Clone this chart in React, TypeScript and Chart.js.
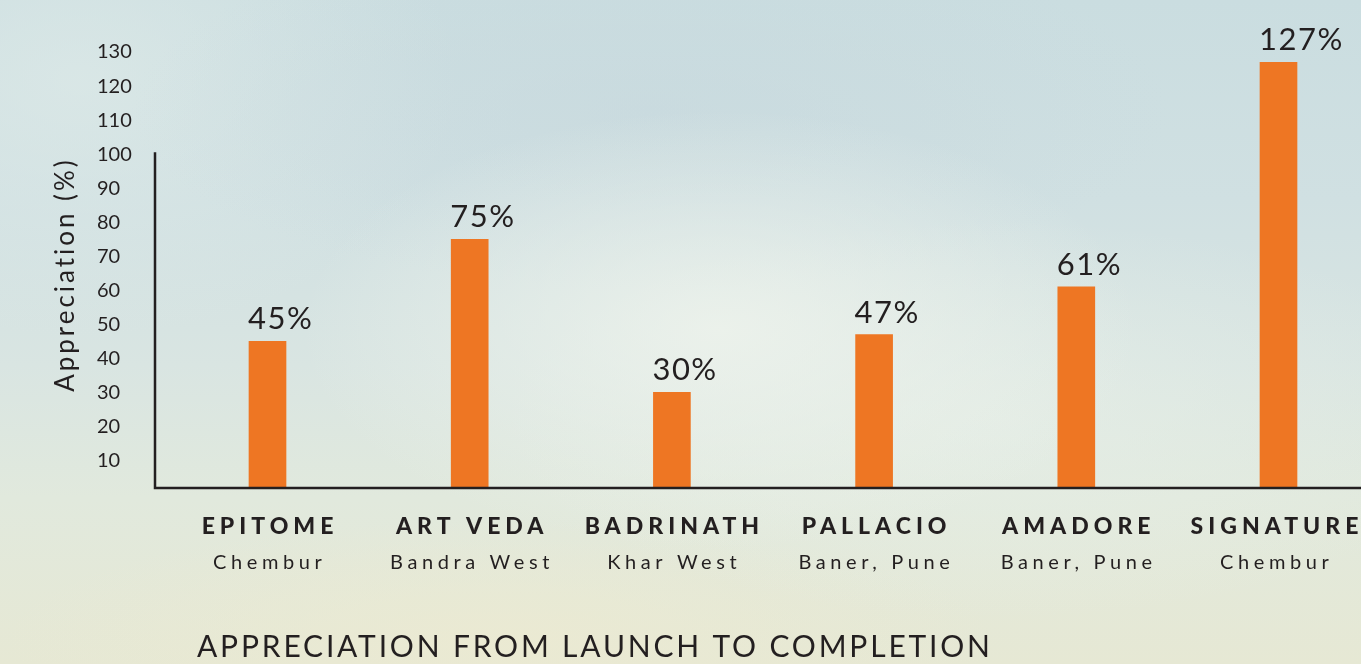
import React, { useEffect, useRef } from "react";
import { Chart, registerables } from "chart.js";

Chart.register(...registerables);

const projects = ["EPITOME", "ART VEDA", "BADRINATH", "PALLACIO", "AMADORE", "SIGNATURE"];
const locations = ["Chembur", "Bandra West", "Khar West", "Baner, Pune", "Baner, Pune", "Chembur"];
const appreciation = [45, 75, 30, 47, 61, 127];
const yTicks = [10, 20, 30, 40, 50, 60, 70, 80, 90, 100, 110, 120, 130];
const yAxisTitle = "Appreciation (%)";
const chartTitle = "APPRECIATION FROM LAUNCH TO COMPLETION";

const INK = "#231f20";
const BAR = "#ee7623";

function fitText(ctx: any, text: string, cx: number, cy: number, target: number, align: "center" | "left") {
  ctx.letterSpacing = "0px";
  const w = ctx.measureText(text).width;
  const ls = (target - w) / Math.max(1, text.length - 1);
  ctx.letterSpacing = ls + "px";
  ctx.textAlign = align;
  ctx.fillText(text, align === "center" ? cx + ls / 2 : cx, cy);
}

const overlayPlugin = {
  id: "overlay",
  afterDatasetsDraw(chart: any) {
    const { ctx, chartArea, scales } = chart;
    const x = scales.x;
    const y = scales.y;
    ctx.save();
    // axis lines
    ctx.strokeStyle = INK;
    ctx.lineWidth = 2.5;
    const axisX = 155;
    const baseY = chartArea.bottom;
    ctx.beginPath();
    ctx.moveTo(axisX, y.getPixelForValue(100) - 2);
    ctx.lineTo(axisX, baseY);
    ctx.lineTo(chart.width, baseY);
    ctx.stroke();

    // value labels
    const meta = chart.getDatasetMeta(0);
    ctx.fillStyle = INK;
    ctx.font = "400 31px Lato";
    (ctx as any).letterSpacing = "1.5px";
    ctx.textAlign = "left";
    ctx.textBaseline = "alphabetic";
    meta.data.forEach((bar: any, i: number) => {
      const left = bar.x - bar.width / 2 - 1;
      ctx.fillText(appreciation[i] + "%", left, bar.y - 12);
    });

    // category labels
    projects.forEach((p, i) => {
      const cx = x.getPixelForValue(i) - (i === projects.length - 1 ? 4 : 0);
      ctx.font = "900 23px Lato";
      (ctx as any).letterSpacing = "5px";
      ctx.textAlign = "center";
      ctx.fillText(p, cx + 2.5, 534);
      ctx.font = "400 20px Lato";
      (ctx as any).letterSpacing = "4.6px";
      ctx.fillText(locations[i], cx + 2.3, 569);
    });

    // y axis title
    ctx.save();
    ctx.translate(66, 276);
    ctx.rotate(-Math.PI / 2);
    ctx.font = "400 26px Lato";
    ctx.textBaseline = "middle";
    fitText(ctx, yAxisTitle, 0, 0, 232, "center");
    ctx.restore();

    // bottom title
    ctx.font = "400 30px Lato";
    ctx.textBaseline = "alphabetic";
    fitText(ctx, chartTitle, 197, 657, 793, "left");
    ctx.restore();
  },
};

export default function App() {
  const canvasRef = useRef<HTMLCanvasElement | null>(null);

  useEffect(() => {
    const canvas = canvasRef.current;
    if (!canvas) return;
    const chart = new Chart(canvas, {
      type: "bar",
      data: {
        labels: projects,
        datasets: [
          {
            data: appreciation,
            backgroundColor: BAR,
            borderWidth: 0,
            barThickness: 37,
            clip: { left: false, top: false, right: false, bottom: 0 } as any,
          },
        ],
      },
      options: {
        animation: false,
        responsive: false,
        maintainAspectRatio: false,
        layout: { padding: { left: 97, right: 82.5, top: 18, bottom: 176 } },
        plugins: {
          legend: { display: false },
          tooltip: { enabled: false },
          title: { display: false },
        },
        scales: {
          x: {
            type: "category",
            display: false,
            offset: false,
            grid: { display: false },
          },
          y: {
            type: "linear",
            min: 1.9,
            max: 140,
            grid: { display: false, drawTicks: false },
            border: { display: false },
            afterBuildTicks: (scale: any) => {
              scale.ticks = yTicks.map((v) => ({ value: v }));
            },
            afterFit: (scale: any) => {
              scale.width = 267.5 - 97;
            },
            ticks: {
              crossAlign: "far",
              padding: 0,
              color: INK,
              font: { family: "Lato", size: 20, weight: "400" },
              autoSkip: false,
            },
          },
        },
      },
      plugins: [overlayPlugin],
    });
    return () => chart.destroy();
  }, []);

  const bg = [
    "radial-gradient(ellipse 420px 220px at 720px 330px, rgba(238,243,236,0.85), rgba(238,243,236,0) 100%)",
    "radial-gradient(ellipse 500px 200px at 1000px 420px, rgba(232,240,232,0.6), rgba(232,240,232,0) 100%)",
    "radial-gradient(ellipse 520px 180px at 650px 110px, rgba(198,215,221,0.5), rgba(198,215,221,0) 100%)",
    "radial-gradient(ellipse 380px 260px at 80px 80px, rgba(222,234,232,0.7), rgba(222,234,232,0) 100%)",
    "radial-gradient(ellipse 500px 120px at 500px 640px, rgba(236,234,210,0.8), rgba(236,234,210,0) 100%)",
    "linear-gradient(180deg, #cadde0 0%, #d0e0e2 30%, #d9e5e2 55%, #e1e9dd 75%, #e6e8d4 100%)",
  ].join(", ");

  return (
    <div style={{ position: "fixed", left: 0, top: 0, width: 1361, height: 664, background: bg, overflow: "hidden" }}>
      <canvas ref={canvasRef} width={1361} height={664} style={{ display: "block", width: 1361, height: 664 }} />
    </div>
  );
}
